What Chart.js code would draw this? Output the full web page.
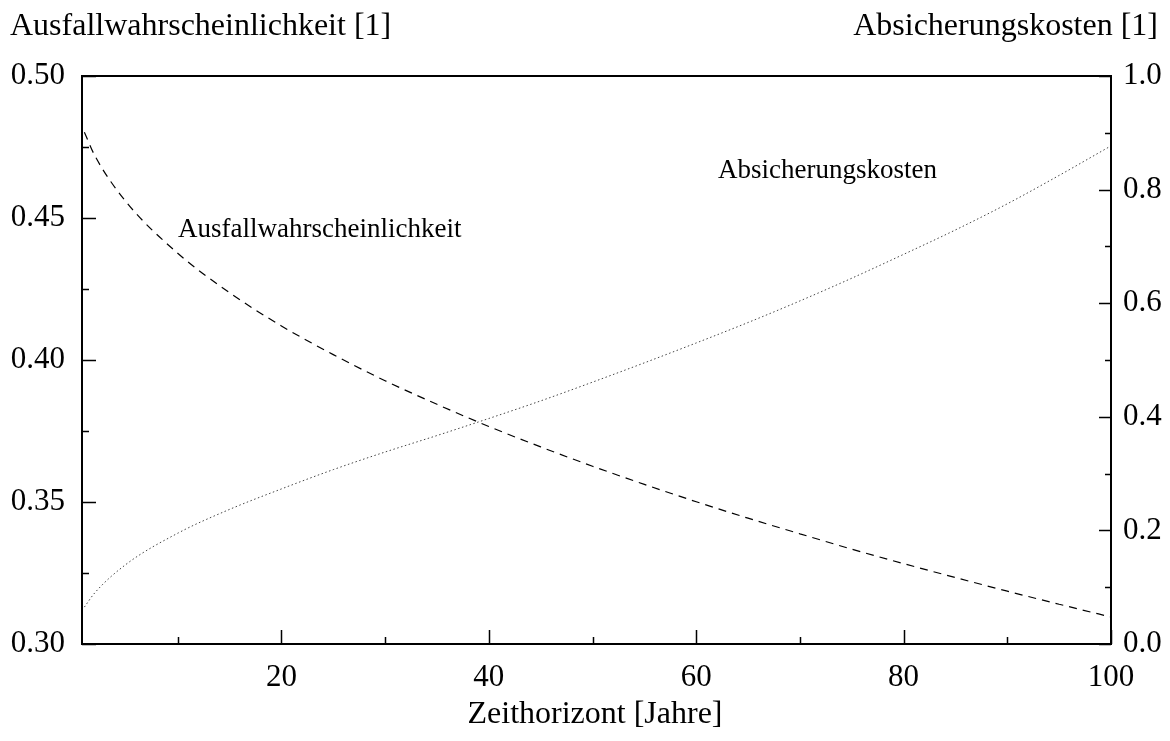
<!DOCTYPE html>
<html>
<head>
<meta charset="utf-8">
<script src="https://cdn.jsdelivr.net/npm/chart.js@4.4.1/dist/chart.umd.min.js"></script>
<style>
html,body{margin:0;padding:0;background:#fff;}
canvas{display:block;}
</style>
</head>
<body>
<canvas id="c" width="1170" height="741"></canvas>
<script>
// ---- data ----
const years = [1, 2, 5, 10, 15, 20, 25, 30, 35, 40, 45, 50, 55, 60, 65, 70, 75, 80, 85, 90, 95, 100];
const ausfall = [0.4802, 0.4720, 0.4558, 0.4376, 0.4237, 0.4120, 0.4019, 0.3927, 0.3844, 0.3766, 0.3694, 0.3626, 0.3562, 0.3501, 0.3443, 0.3388, 0.3334, 0.3283, 0.3234, 0.3186, 0.3140, 0.3095];
const kosten = [0.065, 0.09, 0.14, 0.195, 0.237, 0.273, 0.307, 0.338, 0.367, 0.397, 0.428, 0.461, 0.495, 0.530, 0.566, 0.604, 0.644, 0.686, 0.729, 0.775, 0.825, 0.877];
const xMajorTicks = [20, 40, 60, 80, 100];
const xMinorTicks = [10, 30, 50, 70, 90];
const yLeftMajor = [0.30, 0.35, 0.40, 0.45, 0.50];
const yLeftMinor = [0.325, 0.375, 0.425, 0.475];
const yRightMajor = [0.0, 0.2, 0.4, 0.6, 0.8, 1.0];
const yRightMinor = [0.1, 0.3, 0.5, 0.7, 0.9];
const leftTitle = 'Ausfallwahrscheinlichkeit [1]';
const rightTitle = 'Absicherungskosten [1]';
const xTitle = 'Zeithorizont [Jahre]';
const seriesNames = ['Ausfallwahrscheinlichkeit', 'Absicherungskosten'];

const FONT = '"Liberation Serif", "DejaVu Serif", serif';

const decor = {
  id: 'decor',
  afterDraw(chart) {
    const ctx = chart.ctx;
    const a = chart.chartArea;
    const x = chart.scales.x, yl = chart.scales.y, yr = chart.scales.y1;
    ctx.save();
    ctx.strokeStyle = '#000';
    ctx.lineWidth = 2;
    ctx.strokeRect(a.left, a.top, a.right - a.left, a.bottom - a.top);
    ctx.lineWidth = 1.5;
    ctx.beginPath();
    yLeftMajor.forEach(v => { const p = Math.round(yl.getPixelForValue(v)) + 0.5; ctx.moveTo(a.left, p); ctx.lineTo(a.left + 14, p); });
    yLeftMinor.forEach(v => { const p = Math.round(yl.getPixelForValue(v)) + 0.5; ctx.moveTo(a.left, p); ctx.lineTo(a.left + 7, p); });
    yRightMajor.forEach(v => { const p = Math.round(yr.getPixelForValue(v)) + 0.5; ctx.moveTo(a.right, p); ctx.lineTo(a.right - 12, p); });
    yRightMinor.forEach(v => { const p = Math.round(yr.getPixelForValue(v)) + 0.5; ctx.moveTo(a.right, p); ctx.lineTo(a.right - 6, p); });
    xMajorTicks.forEach(v => { const p = Math.round(x.getPixelForValue(v)) + 0.5; ctx.moveTo(p, a.bottom); ctx.lineTo(p, a.bottom - 14); });
    xMinorTicks.forEach(v => { const p = Math.round(x.getPixelForValue(v)) + 0.5; ctx.moveTo(p, a.bottom); ctx.lineTo(p, a.bottom - 7); });
    ctx.stroke();

    ctx.fillStyle = '#000';
    ctx.textBaseline = 'alphabetic';
    ctx.font = '32px ' + FONT;
    ctx.textAlign = 'left';
    ctx.fillText(leftTitle, 10, 35);
    ctx.textAlign = 'right';
    ctx.fillText(rightTitle, 1158, 35);
    ctx.textAlign = 'center';
    ctx.fillText(xTitle, 595, 723);
    ctx.font = '27px ' + FONT;
    ctx.textAlign = 'left';
    ctx.fillText(seriesNames[0], 178, 237);
    ctx.fillText(seriesNames[1], 718, 178);
    ctx.restore();
  }
};

new Chart(document.getElementById('c'), {
  type: 'line',
  data: {
    datasets: [
      {
        label: seriesNames[0],
        data: years.map((t, i) => ({ x: t, y: ausfall[i] })),
        yAxisID: 'y',
        borderColor: '#000',
        borderWidth: 1.2,
        borderDash: [8, 6],
        pointRadius: 0,
        cubicInterpolationMode: 'monotone',
        fill: false
      },
      {
        label: seriesNames[1],
        data: years.map((t, i) => ({ x: t, y: kosten[i] })),
        yAxisID: 'y1',
        borderColor: '#444',
        borderWidth: 1,
        borderDash: [1.5, 2.5],
        pointRadius: 0,
        cubicInterpolationMode: 'monotone',
        fill: false
      }
    ]
  },
  options: {
    responsive: false,
    animation: false,
    devicePixelRatio: 1,
    layout: { padding: { top: 76, left: 0, right: 0, bottom: 0 } },
    plugins: { legend: { display: false }, tooltip: { enabled: false }, title: { display: false } },
    scales: {
      x: {
        type: 'linear',
        min: 0.77,
        max: 100,
        afterBuildTicks: s => { s.ticks = xMajorTicks.map(v => ({ value: v })); },
        afterFit: s => { s.height = 97; },
        grid: { display: false, drawTicks: false },
        border: { display: false },
        ticks: { color: '#000', font: { family: FONT, size: 31 }, padding: 15, maxRotation: 0, autoSkip: false, callback: v => String(v) }
      },
      y: {
        type: 'linear',
        position: 'left',
        min: 0.30,
        max: 0.50,
        afterBuildTicks: s => { s.ticks = yLeftMajor.map(v => ({ value: v })); },
        afterFit: s => { s.width = 82; },
        grid: { display: false, drawTicks: false },
        border: { display: false },
        ticks: { color: '#000', font: { family: FONT, size: 31 }, padding: 17, callback: v => Number(v).toFixed(2) }
      },
      y1: {
        type: 'linear',
        position: 'right',
        min: 0,
        max: 1,
        afterBuildTicks: s => { s.ticks = yRightMajor.map(v => ({ value: v })); },
        afterFit: s => { s.width = 59; },
        grid: { display: false, drawTicks: false },
        border: { display: false },
        ticks: { color: '#000', font: { family: FONT, size: 31 }, padding: 12, callback: v => Number(v).toFixed(1) }
      }
    }
  },
  plugins: [decor]
});
</script>
</body>
</html>
